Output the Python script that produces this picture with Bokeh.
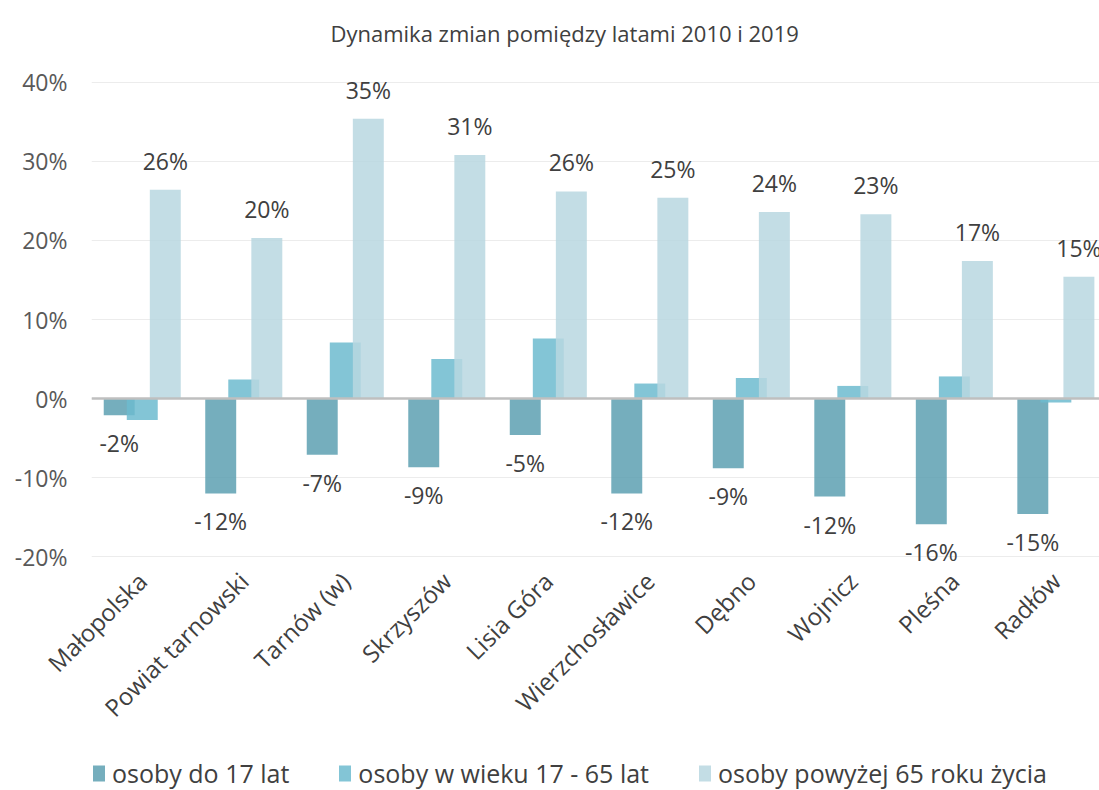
import math
from bokeh.plotting import figure
from bokeh.layouts import column
from bokeh.models import (ColumnDataSource, FixedTicker, PrintfTickFormatter, Span,
                          Legend, LegendItem, Range1d)
from bokeh.core.properties import value
from bokeh.embed import file_html
from bokeh.resources import INLINE

categories = ["Małopolska", "Powiat tarnowski", "Tarnów (w)", "Skrzyszów", "Lisia Góra",
              "Wierzchosławice", "Dębno", "Wojnicz", "Pleśna", "Radłów"]
do_17 = [-2.1, -12.0, -7.1, -8.7, -4.6, -12.0, -8.8, -12.4, -15.9, -14.6]
w_17_65 = [-2.7, 2.4, 7.1, 5.0, 7.6, 1.9, 2.6, 1.6, 2.8, -0.5]
pow_65 = [26.4, 20.3, 35.4, 30.8, 26.2, 25.4, 23.6, 23.3, 17.4, 15.4]
series_names = ["osoby do 17 lat", "osoby w wieku 17 - 65 lat", "osoby powyżej 65 roku życia"]
y_ticks = [-20, -10, 0, 10, 20, 30, 40]
title_text = "Dynamika zmian pomiędzy latami 2010 i 2019"

FONT = "Open Sans"
TXT = "#404040"
colors = ["#5da0b1", "#6dbbcf", "#b8d7e0"]
offsets = [-0.227, 0.0, 0.227]
bar_w = 0.305

centers = [i + 0.5 for i in range(len(categories))]

p = figure(width=1099, height=748, x_range=Range1d(0, 9.93), y_range=Range1d(-22, 42),
           output_backend="svg", toolbar_location=None,
           min_border_left=91, min_border_right=0, min_border_top=64, min_border_bottom=176)
p.outline_line_color = None
p.background_fill_color = "white"
p.border_fill_color = "white"

p.title.text = title_text
p.title.text_font = FONT
p.title.text_font_size = "22px"
p.title.text_font_style = "normal"
p.title.text_color = TXT
p.title.align = "left"
p.title.offset = 239
p.title.vertical_align = "top"
p.title.standoff = 34

for vals, off, col in zip([do_17, w_17_65, pow_65], offsets, colors):
    src = ColumnDataSource(dict(x=[c + off for c in centers], top=vals))
    p.vbar(x="x", top="top", bottom=0, width=bar_w, source=src,
           fill_color=col, fill_alpha=0.85, line_color=None)

zero = Span(location=0, dimension="width", line_color="#bfbfbf", line_width=2.5)
p.add_layout(zero)

# data labels
lab1 = ColumnDataSource(dict(x=[c + offsets[0] for c in centers], y=do_17,
                             t=["{:.0f}%".format(v) for v in do_17]))
p.text(x="x", y="y", text="t", source=lab1, text_align="center", text_baseline="middle",
       y_offset=28, text_font=value(FONT), text_font_size="23px", text_color=TXT)
lab3 = ColumnDataSource(dict(x=[c + offsets[2] for c in centers], y=pow_65,
                             t=["{:.0f}%".format(v) for v in pow_65]))
p.text(x="x", y="y", text="t", source=lab3, text_align="center", text_baseline="middle",
       y_offset=-29, text_font=value(FONT), text_font_size="23px", text_color=TXT)

# axes
p.xaxis.ticker = FixedTicker(ticks=centers)
p.xaxis.major_label_overrides = {c: n for c, n in zip(centers, categories)}
p.xaxis.major_label_orientation = math.pi / 4
p.xaxis.axis_line_color = None
p.xaxis.major_tick_line_color = None
p.xaxis.minor_tick_line_color = None
p.xaxis.major_tick_out = 0
p.xaxis.major_tick_in = 0
p.xaxis.major_label_text_font = FONT
p.xaxis.major_label_text_font_size = "24px"
p.xaxis.major_label_text_color = TXT
p.xaxis.major_label_standoff = 4
p.xgrid.grid_line_color = None

p.yaxis.ticker = FixedTicker(ticks=y_ticks)
p.yaxis.formatter = PrintfTickFormatter(format="%d%%")
p.yaxis.axis_line_color = None
p.yaxis.major_tick_line_color = None
p.yaxis.minor_tick_line_color = None
p.yaxis.major_tick_out = 0
p.yaxis.major_tick_in = 0
p.yaxis.major_label_text_font = FONT
p.yaxis.major_label_text_font_size = "23px"
p.yaxis.major_label_text_color = "#595959"
p.yaxis.major_label_standoff = 24
p.ygrid.grid_line_color = "#ececec"
p.ygrid.grid_line_width = 1

# legend strip below the chart
lg = figure(width=1099, height=42, x_range=Range1d(0, 1), y_range=Range1d(0, 1),
            output_backend="svg", toolbar_location=None,
            x_axis_location=None, y_axis_location=None,
            min_border_left=0, min_border_right=0, min_border_top=0, min_border_bottom=0)
lg.grid.grid_line_color = None
lg.outline_line_color = None
lg.border_fill_color = "white"
lg.background_fill_color = "white"
items = []
for n, col in zip(series_names, colors):
    src = ColumnDataSource(dict(x=[0.5], top=[0.0]))
    r = lg.vbar(x="x", top="top", bottom=0, width=0.01, source=src,
                fill_color=col, fill_alpha=0.85, line_color=None)
    items.append(LegendItem(label=n, renderers=[r]))
legend = Legend(items=items, orientation="horizontal", location=(0, 0),
                border_line_color=None, background_fill_alpha=0,
                label_text_font=FONT, label_text_font_size="25px", label_text_color=TXT,
                glyph_width=15, glyph_height=20, spacing=48, label_standoff=6,
                padding=0, margin=0)
lg.add_layout(legend, "center")

layout = column(p, lg, spacing=0)
open("out.html", "w").write(file_html(layout, INLINE))
